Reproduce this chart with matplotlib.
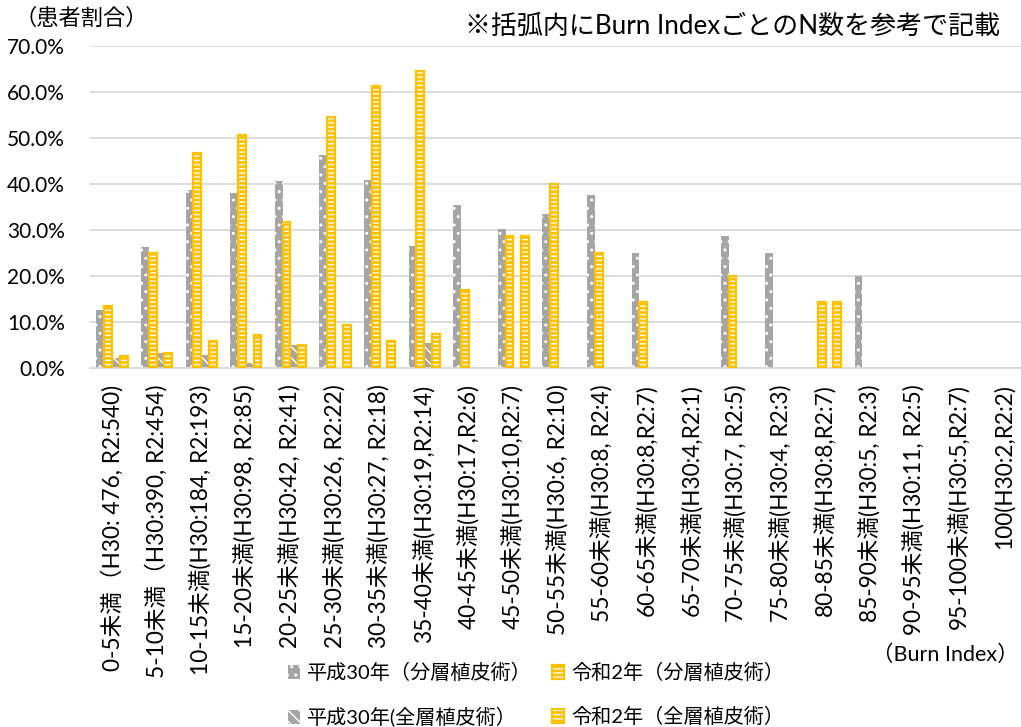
import matplotlib.pyplot as plt
import numpy as np
from matplotlib.patches import Rectangle
from matplotlib.ticker import FuncFormatter

plt.rcParams['font.family'] = ['Lato', 'Noto Sans CJK JP', 'DejaVu Sans']
plt.rcParams['hatch.linewidth'] = 1.0

# Burn Index bins with the number of patients in each year
categories = [
    '0-5未満（H30: 476, R2:540)',
    '5-10未満（H30:390, R2:454)',
    '10-15未満(H30:184, R2:193)',
    '15-20未満(H30:98, R2:85)',
    '20-25未満(H30:42, R2:41)',
    '25-30未満(H30:26, R2:22)',
    '30-35未満(H30:27, R2:18)',
    '35-40未満(H30:19,R2:14)',
    '40-45未満(H30:17,R2:6)',
    '45-50未満(H30:10,R2:7)',
    '50-55未満(H30:6, R2:10)',
    '55-60未満(H30:8, R2:4)',
    '60-65未満(H30:8,R2:7)',
    '65-70未満(H30:4,R2:1)',
    '70-75未満(H30:7, R2:5)',
    '75-80未満(H30:4, R2:3)',
    '80-85未満(H30:8,R2:7)',
    '85-90未満(H30:5, R2:3)',
    '90-95未満(H30:11, R2:5)',
    '95-100未満(H30:5,R2:7)',
    '100(H30:2,R2:2)',
]

# share of patients (%)
h30_split = [12.5, 26.2, 38.7, 37.9, 40.7, 46.3, 40.9, 26.5, 35.4, 30.2,
             33.5, 37.5, 25.0, 0, 28.6, 25.0, 0, 20.0, 0, 0, 0]
r2_split = [13.4, 25.0, 46.7, 50.7, 31.7, 54.6, 61.3, 64.5, 16.8, 28.6,
            40.0, 25.0, 14.3, 0, 20.0, 0, 14.3, 0, 0, 0, 0]
h30_full = [2.2, 3.2, 2.8, 1.0, 4.9, 0, 0, 5.3, 0, 0,
            0, 0, 0, 0, 0, 0, 0, 0, 0, 0, 0]
r2_full = [2.5, 3.2, 5.8, 7.1, 4.9, 9.2, 5.7, 7.3, 0, 28.6,
           0, 0, 0, 0, 0, 0, 14.3, 0, 0, 0, 0]

series_labels = ['平成30年（分層植皮術）', '令和2年（分層植皮術）',
                 '平成30年(全層植皮術）', '令和2年（全層植皮術）']

GRAY = '#A5A5A5'
YELLOW = '#FFC000'
GRID = '#D9D9D9'

fig = plt.figure(figsize=(10.21, 7.27), dpi=100)
ax = fig.add_axes([0.0879, 0.4942, 0.9173, 0.4429])

x = np.arange(len(categories))
w = 0.175
styles = [
    (h30_split, GRAY, '..', None),
    (r2_split, YELLOW, '----', YELLOW),
    (h30_full, GRAY, '\\\\\\', None),
    (r2_full, YELLOW, '----', YELLOW),
]

handles = []
for i, (vals, col, hatch, outline) in enumerate(styles):
    v = np.array(vals) / 100
    keep = v > 0
    pos = (x + (i - 1.5) * w)[keep]
    v = v[keep]
    ax.bar(pos, v, w, color=col, edgecolor='white', hatch=hatch, linewidth=0, zorder=2)
    parts = [Rectangle((0, 0), 1, 1, facecolor=col, edgecolor='white', hatch=hatch, linewidth=0)]
    if outline:
        ax.bar(pos, v, w, facecolor='none', edgecolor=outline, linewidth=1.6, zorder=3)
        parts.append(Rectangle((0, 0), 1, 1, facecolor='none', edgecolor=outline, linewidth=1.6))
    handles.append(tuple(parts))

ax.set_xlim(-0.5, len(categories) - 0.5)
ax.set_ylim(0, 0.7)
ax.set_yticks(np.arange(0, 0.71, 0.1))
ax.yaxis.set_major_formatter(FuncFormatter(lambda v, _: f'{v * 100:.1f}%'))
ax.set_xticks(x)
ax.set_xticklabels(categories, rotation=90, fontsize=16.3)
ax.tick_params(axis='both', length=0)
ax.tick_params(axis='x', pad=12)
ax.tick_params(axis='y', pad=18, labelsize=15)

ax.yaxis.grid(True, color=GRID, linewidth=1.3)
ax.set_axisbelow(True)
for s in ['top', 'right', 'left']:
    ax.spines[s].set_visible(False)
ax.spines['bottom'].set_color(GRID)
ax.spines['bottom'].set_linewidth(1.3)

# annotations around the plot
fig.text(15 / 1021, 1 - 18 / 727, '（患者割合）', fontsize=16, ha='left', va='center')
fig.text(1000 / 1021, 1 - 26 / 727, '※括弧内にBurn IndexごとのN数を参考で記載',
         fontsize=18.7, ha='right', va='center')
fig.text(1019 / 1021, 1 - 655 / 727, '（Burn Index）', fontsize=15.5, ha='right', va='center')

order = [0, 2, 1, 3]
fig.legend([handles[i] for i in order], [series_labels[i] for i in order],
           ncol=2, loc='center', bbox_to_anchor=(536 / 1021, 1 - 695 / 727),
           frameon=False, fontsize=14.5, handlelength=0.6, handleheight=0.7,
           handletextpad=0.35, columnspacing=1.0, labelspacing=1.25)

plt.savefig('out.png', dpi=100)
